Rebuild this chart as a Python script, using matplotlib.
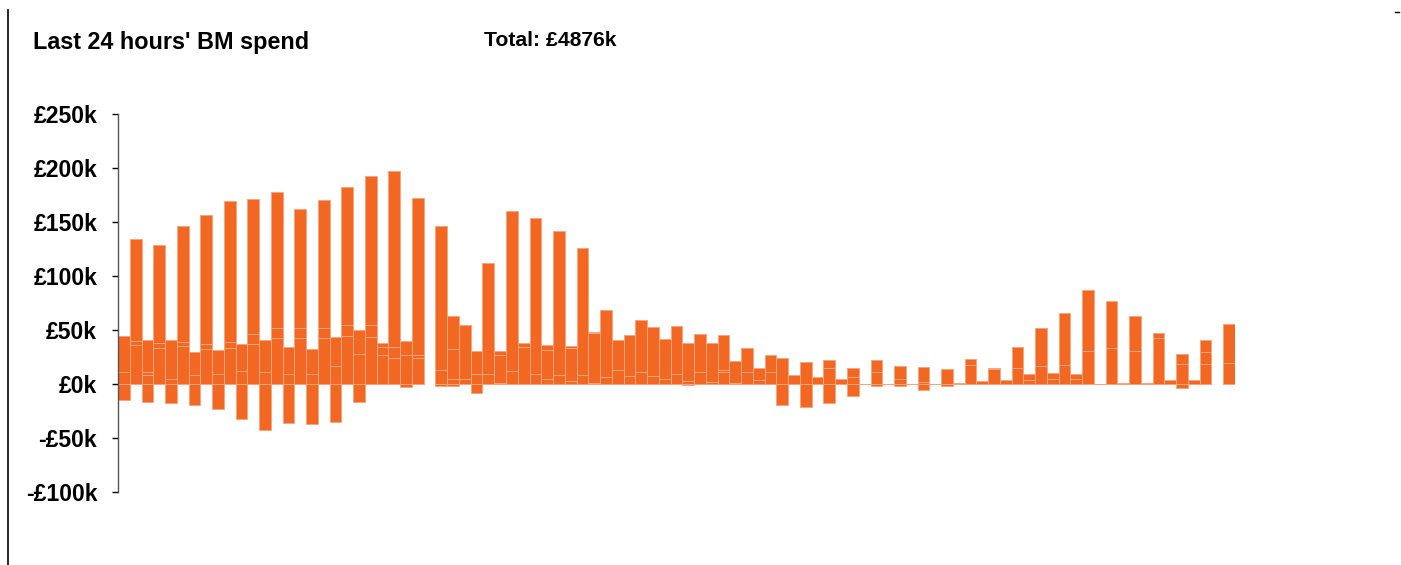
import matplotlib
matplotlib.use("Agg")
import matplotlib.pyplot as plt
import numpy as np

nan = np.nan
# Stacked segment heights per half-hour slot (£k); nan = no data
seg_low = [11, 35.7, 8, 32.9, 5, 34.8, 8, 32.3, 8.9, 32.9, 11.7, 37, 11, 42.4, 8.9, 42.4, 8.9, 42.4, 16.3, 44.9,
           27.4, 43.3, 26.4, 24, 26.4, 24, nan, 12.9, 4.6, 4.6, 9.2, 9.2, 1, 11.7, 33.8, 9.2, 4.6, 8, 2.8, 8,
           1, 6.5, 12.9, 7, 10.8, 7, 4.6, 9.2, 2.5, 10.8, 1.8, 10.8, 1, 10.8, 3.4, 11.4, 24, 8, 20, 6.8,
           14.5, 4.6, 6.2, 0, 10.8, 0, 4.6, 0, 1.5, 0, 13.5, 0.6, 17.2, 2.5, 13.5, 3.7, 14.5, 3.7, 16.9, 4.6,
           17.8, 4.6, 30.1, 0, 32.9, 0.6, 31, 1.2, 43, 3.7, 18.8, 3.7, 18.8, nan, 19]
seg_mid = [33, 3.7, 3, 4.9, 36.2, 3.9, 21.5, 4.6, 22.5, 5.8, 24.9, 9, 29.3, 9, 25.2, 9, 23.4, 9.9, 27.4, 9.5,
           22.4, 11.1, 7.4, 10.1, 13.6, 2.4, nan, 133.8, 27.4, 49.8, 21.2, 102.4, 25.8, 148.5, 4.6, 144.2, 26.8, 133.5, 30.7, 117.5,
           46, 62.1, 27.4, 38.8, 48.2, 46.2, 37.2, 44.3, 35.3, 35.3, 36.6, 2.4, 19.9, 22.4, 11.7, 15.4, 0, 0, 0, 0,
           7.6, 0, 8.9, 0, 11, 0, 12, 0, 13.9, 0, 0, 0, 5.8, 0, 1.6, 0, 19.6, 5.5, 35.4, 5.9,
           47.7, 4.9, 57.2, 0, 44, 0, 32.3, 0, 4.4, 0, 8.6, 0, 10.4, nan, 37]
seg_top = [0, 94.4, 29.6, 90.7, 0, 107.7, 0, 119.9, 0, 130.3, 0, 125.6, 0, 126.4, 0, 110.6, 0, 118.4, 0, 128.3,
           0, 137.8, 4.6, 163, 0, 146.1, nan, 0, 31.3, 0, 0, 0, 4.2, 0, 0, 0, 4.6, 0, 1.5, 0,
           1.6, 0, 0, 0, 0, 0, 0, 0, 0, 0, 0, 32, 0, 0, 0, 0, 0, 0, 0, 0,
           0, 0, 0, 0, 0, 0, 0, 0, 0, 0, 0, 0, 0, 0, 0, 0, 0, 0, 0, 0,
           0, 0, 0, 0, 0, 0, 0, 0, 0, 0, 0, 0, 12, nan, 0]
neg = [-14.5, 0, -16.9, 0, -17.8, 0, -19.4, 0, -23, 0, -32.3, 0, -42.4, 0, -36.3, 0, -36.9, 0, -35.4, 0,
       -16.6, 0, 0, 0, -2.5, 0, nan, -1.5, -1.5, 0, -8, 0, 0, 0, 0, 0, 0, 0, 0, 0,
       0, 0, 0, 0, 0, 0, 0, 0, -0.6, 0, 0, 0, 0, 0, 0, 0, -19.7, 0, -20.9, 0,
       -17.8, 0, -11.4, 0, -2.2, 0, -1.5, 0, -5.8, 0, -2.2, 0, 0, 0, 0, 0, 0, 0, 0, 0,
       0, 0, 0, 0, 0, 0, 0, 0, 0, 0, -3.4, 0, 0, nan, 0]

tick_vals = [250, 200, 150, 100, 50, 0, -50, -100]
tick_labels = ["£250k", "£200k", "£150k", "£100k", "£50k", "£0k", "-£50k", "-£100k"]
title = "Last 24 hours' BM spend"
total_text = "Total: £4876k"

W, H = 1401, 565
plt.rcParams['font.family'] = ['Liberation Sans', 'DejaVu Sans']
fig = plt.figure(figsize=(W / 100, H / 100), dpi=100)
ax = fig.add_axes([118 / W, 1 - 492 / H, (1235 - 118) / W, (492 - 114) / H])

lo = np.array(seg_low, float)
md = np.array(seg_mid, float)
tp = np.array(seg_top, float)
ng = np.array(neg, float)
x = np.arange(len(lo))
ok = ~np.isnan(lo)

face = '#f26722'
edge = '#f8a57e'
kw = dict(width=1.0, color=face, edgecolor=edge, linewidth=0.7, align='center')
ax.bar(x[ok], ng[ok], **kw)
ax.bar(x[ok], lo[ok], **kw)
ax.bar(x[ok], md[ok], bottom=lo[ok], **kw)
ax.bar(x[ok], tp[ok], bottom=(lo + md)[ok], **kw)

ax.set_xlim(-0.5, len(lo) - 0.5)
ax.set_ylim(-100, 250)
ax.set_yticks(tick_vals)
ax.set_yticklabels(tick_labels, fontsize=16.6, fontweight='bold')
ax.tick_params(axis='y', length=4.5, width=1, pad=10.5, color='black')
ax.set_xticks([])
for s in ['top', 'right', 'bottom']:
    ax.spines[s].set_visible(False)
ax.spines['left'].set_color('#555555')
ax.spines['left'].set_linewidth(1)
ax.patch.set_alpha(0)

fig.text(33 / W, 1 - 43 / H, title, fontsize=16.8, fontweight='bold', ha='left', va='center')
fig.text(484 / W, 1 - 41 / H, total_text, fontsize=15.2, fontweight='bold', ha='left', va='center')

# page artefacts: left border line and small dash at top right
fig.add_artist(plt.Line2D([8 / W, 8 / W], [0, 1 - 10 / H], color='black', linewidth=1.2))
fig.add_artist(plt.Line2D([1395 / W, 1399 / W], [1 - 12 / H, 1 - 12 / H], color='black', linewidth=1))

fig.savefig("out.png", dpi=100)
